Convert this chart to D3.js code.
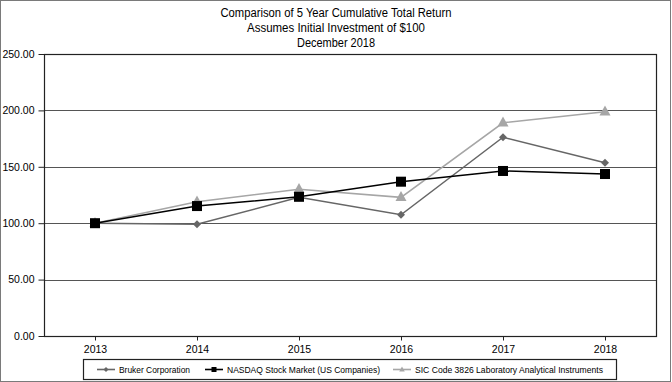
<!DOCTYPE html>
<html>
<head>
<meta charset="utf-8">
<script src="https://cdn.jsdelivr.net/npm/d3@7/dist/d3.min.js"></script>
<style>
  body { margin: 0; background: #fff; }
  svg { display: block; font-family: "Liberation Sans", Arial, sans-serif; }
</style>
</head>
<body>
<svg id="chart" width="672" height="382"></svg>
<script>
const years = ["2013", "2014", "2015", "2016", "2017", "2018"];
const bruker = [100, 99.0, 123.0, 107.5, 176.2, 153.6];
const nasdaq = [100, 115.2, 123.4, 136.8, 146.3, 143.6];
const sic = [100, 119.0, 130.0, 122.9, 189.0, 198.7];
const yTicks = [0, 50, 100, 150, 200, 250];
const titleLines = ["Comparison of 5 Year Cumulative Total Return", "Assumes Initial Investment of $100", "December 2018"];

const series = [
  { name: "Bruker Corporation", values: bruker, color: "#666666", marker: "diamond" },
  { name: "NASDAQ Stock Market (US Companies)", values: nasdaq, color: "#000000", marker: "square" },
  { name: "SIC Code 3826 Laboratory Analytical Instruments", values: sic, color: "#a6a6a6", marker: "triangle" }
];

const W = 672, H = 382;
const margin = { left: 44, right: 16, top: 54, bottom: 46 };
const svg = d3.select("#chart");

// outer frame
svg.append("rect").attr("x", 0.5).attr("y", 0.5).attr("width", W - 2).attr("height", H - 1)
  .attr("fill", "none").attr("stroke", "#7a7a7a");

// title (source font is narrower than Liberation Sans, so squeeze a bit)
const titleWidths = [231, 178, 78];
svg.append("g").selectAll("text").data(titleLines).enter().append("text")
  .attr("x", 336).attr("y", (d, i) => 17 + i * 15.2)
  .attr("text-anchor", "middle").attr("font-size", "12.3px").attr("fill", "#000")
  .attr("textLength", (d, i) => titleWidths[i]).attr("lengthAdjust", "spacingAndGlyphs")
  .text(d => d);

const x = d3.scalePoint().domain(years).range([margin.left, W - margin.right]).padding(0.5);
const y = d3.scaleLinear().domain([0, 250]).range([H - margin.bottom, margin.top]);

// grid
svg.append("g").selectAll("line").data(yTicks.slice(1, -1)).enter().append("line")
  .attr("x1", margin.left).attr("x2", W - margin.right)
  .attr("y1", d => Math.round(y(d)) + 0.5).attr("y2", d => Math.round(y(d)) + 0.5)
  .attr("stroke", "#555").attr("stroke-width", 1.2);

// plot frame
svg.append("rect").attr("x", margin.left + 0.5).attr("y", Math.round(y(250)) + 0.5)
  .attr("width", W - margin.right - margin.left).attr("height", Math.round(y(0)) - Math.round(y(250)))
  .attr("fill", "none").attr("stroke", "#222").attr("stroke-width", 1.2);

// axes
const yAxis = d3.axisLeft(y).tickValues(yTicks).tickFormat(d3.format(".2f")).tickSize(6).tickSizeOuter(0);
const gy = svg.append("g").attr("transform", `translate(${margin.left + 0.5},0)`).call(yAxis);
gy.select(".domain").remove();
gy.selectAll("text").attr("font-size", "10.5px").attr("fill", "#000").attr("font-family", "Liberation Sans, Arial, sans-serif").attr("dx", "-1");
gy.selectAll("line").attr("stroke", "#222");

const xAxis = d3.axisBottom(x).tickSize(4).tickSizeOuter(0);
const gx = svg.append("g").attr("transform", `translate(0,${Math.round(y(0)) + 0.5})`).call(xAxis);
gx.select(".domain").remove();
gx.selectAll("text").attr("font-size", "10.5px").attr("fill", "#000").attr("font-family", "Liberation Sans, Arial, sans-serif").attr("dy", "0.95em");
gx.selectAll("line").attr("stroke", "#222");

// markers
function drawMarker(g, type, color, size) {
  if (type === "diamond") {
    g.append("path").attr("d", `M0,${-size}L${size},0L0,${size}L${-size},0Z`).attr("fill", color);
  } else if (type === "square") {
    g.append("rect").attr("x", -size).attr("y", -size).attr("width", size * 2).attr("height", size * 2).attr("fill", color);
  } else {
    g.append("path").attr("d", `M0,${-size * 1.25}L${size * 1.1},${size * 0.75}L${-size * 1.1},${size * 0.75}Z`).attr("fill", color);
  }
}

const line = d3.line().x((d, i) => x(years[i])).y(d => y(d));
const sizes = { diamond: 4, square: 5, triangle: 5 };

// draw in order so black on top of light grey near start
[series[2], series[0], series[1]].forEach(s => {
  const g = svg.append("g");
  g.append("path").datum(s.values).attr("d", line).attr("fill", "none")
    .attr("stroke", s.color).attr("stroke-width", 1.5);
  s.values.forEach((v, i) => {
    const m = g.append("g").attr("transform", `translate(${x(years[i])},${y(v)})`);
    drawMarker(m, s.marker, s.color, sizes[s.marker]);
  });
});

// legend
const legend = svg.append("g");
legend.append("rect").attr("x", 83.5).attr("y", 359.5).attr("width", 533).attr("height", 20)
  .attr("fill", "#fff").attr("stroke", "#222").attr("stroke-width", 1.2);
const legendX = [97, 205, 393];
const legendTextW = [71, 153, 188];
series.forEach((s, i) => {
  const g = legend.append("g").attr("transform", `translate(${legendX[i]},369.5)`);
  g.append("line").attr("x1", 0).attr("x2", 18).attr("stroke", s.color).attr("stroke-width", 1.6);
  const m = g.append("g").attr("transform", "translate(9,0)");
  drawMarker(m, s.marker, s.color, 2.5);
  g.append("text").attr("x", 22).attr("y", 3.3).attr("font-size", "9.5px").attr("fill", "#000")
    .attr("textLength", legendTextW[i]).attr("lengthAdjust", "spacingAndGlyphs")
    .text(s.name);
});
</script>
</body>
</html>
